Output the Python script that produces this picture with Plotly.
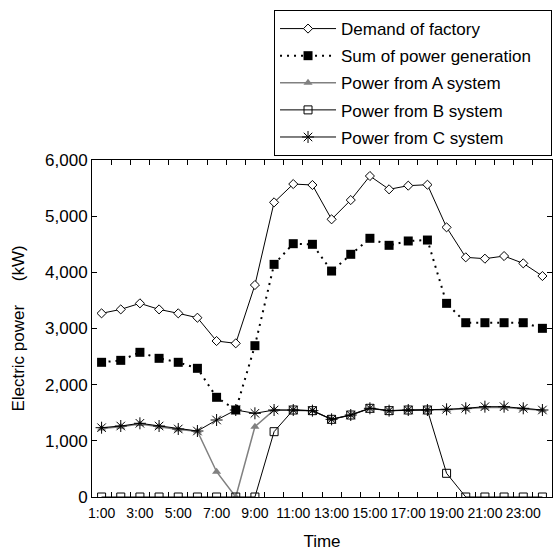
import plotly.graph_objects as go

hours = [f"{h}:00" for h in range(1, 25)]
tick_labels = [h if i % 2 == 0 else "" for i, h in enumerate(hours)]

demand = [3270, 3340, 3448, 3340, 3270, 3192, 2777, 2736, 3774, 5246, 5572, 5555,
          4944, 5287, 5715, 5478, 5543, 5560, 4801, 4267, 4243, 4290, 4160, 3934]
sum_gen = [2398, 2433, 2576, 2469, 2398, 2291, 1775, 1549, 2694, 4142, 4510, 4499,
           4023, 4321, 4606, 4481, 4558, 4575, 3448, 3103, 3103, 3103, 3103, 3003]
power_a = [1220, 1250, 1300, 1250, 1200, 1170, 450, 0, 1252, 1549, 1549, 1537,
           1383, 1460, 1579, 1537, 1549, 1549, 1555, 1570, 1595, 1595, 1570, 1545]
power_b = [0, 0, 0, 0, 0, 0, 0, 0, 0, 1163, 1549, 1537,
           1383, 1460, 1579, 1537, 1549, 1549, 422, 0, 0, 0, 0, 0]
power_c = [1234, 1264, 1312, 1264, 1211, 1175, 1371, 1549, 1490, 1549, 1549, 1537,
           1383, 1460, 1579, 1537, 1549, 1549, 1561, 1579, 1608, 1608, 1579, 1549]

FONT = "Liberation Sans, Arial, sans-serif"

fig = go.Figure()
fig.add_trace(go.Scatter(
    x=hours, y=demand, name="Demand of factory", mode="lines+markers", legendgroup="d",
    line=dict(color="black", width=1),
    marker=dict(symbol="diamond", size=7, color="white", line=dict(color="black", width=1))))
fig.add_trace(go.Scatter(
    x=hours, y=sum_gen, name="Sum of power generation\u00a0\u00a0\u00a0", mode="lines+markers",
    legendgroup="s",
    line=dict(color="black", width=2, dash="2px,5px"),
    marker=dict(symbol="square", size=9, color="black", line=dict(width=0))))
fig.add_trace(go.Scatter(
    x=hours, y=power_a, name="Power from A system", mode="lines+markers", legendgroup="a",
    line=dict(color="#808080", width=1.5),
    marker=dict(symbol="triangle-up", size=8, color="#808080", line=dict(width=0))))
fig.add_trace(go.Scatter(
    x=hours, y=power_b, name="Power from B system", mode="lines+markers", legendgroup="b",
    line=dict(color="black", width=1),
    marker=dict(symbol="square-open", size=8, color="black", line=dict(color="black", width=1))))
fig.add_trace(go.Scatter(
    x=hours, y=power_c, name="Power from C system", mode="lines+markers", legendgroup="c",
    line=dict(color="black", width=1),
    marker=dict(symbol="asterisk-open", size=10, color="black", line=dict(color="black", width=1))))

fig.update_layout(
    width=553, height=551,
    margin=dict(l=92, r=1, t=160, b=54, autoexpand=False),
    paper_bgcolor="white", plot_bgcolor="white",
    font=dict(family=FONT, size=17, color="black"),
    showlegend=True,
    legend=dict(x=0.3957, y=1.445, xanchor="left", yanchor="top",
                bgcolor="white", bordercolor="black", borderwidth=1,
                traceorder="grouped", tracegroupgap=2,
                font=dict(family=FONT, size=17), itemwidth=56),
    xaxis=dict(
        type="category", categoryorder="array", categoryarray=hours,
        range=[-0.5, 23.5],
        tickmode="array", tickvals=hours, ticktext=tick_labels,
        tickson="boundaries", ticks="inside", ticklen=5, tickcolor="black",
        showline=True, linecolor="black", linewidth=1, mirror="ticks",
        showgrid=False, zeroline=False, tickangle=0, ticklabelstandoff=3,
        tickfont=dict(family=FONT, size=14),
        title=dict(text="Time", font=dict(family=FONT, size=17), standoff=16),
    ),
    yaxis=dict(
        range=[0, 6000], dtick=1000, tickformat=",",
        ticks="inside", ticklen=5, tickcolor="black",
        showline=True, linecolor="black", linewidth=1, mirror="ticks",
        showgrid=False, zeroline=False,
        tickfont=dict(family=FONT, size=17),
        title=dict(text="Electric power\u00a0\u00a0\u00a0\u00a0\u00a0(kW)", font=dict(family=FONT, size=17), standoff=16),
    ),
)

fig.write_html("out.html", config={"displayModeBar": False},
               post_script="document.body.style.margin='0';document.body.style.overflow='hidden';")
